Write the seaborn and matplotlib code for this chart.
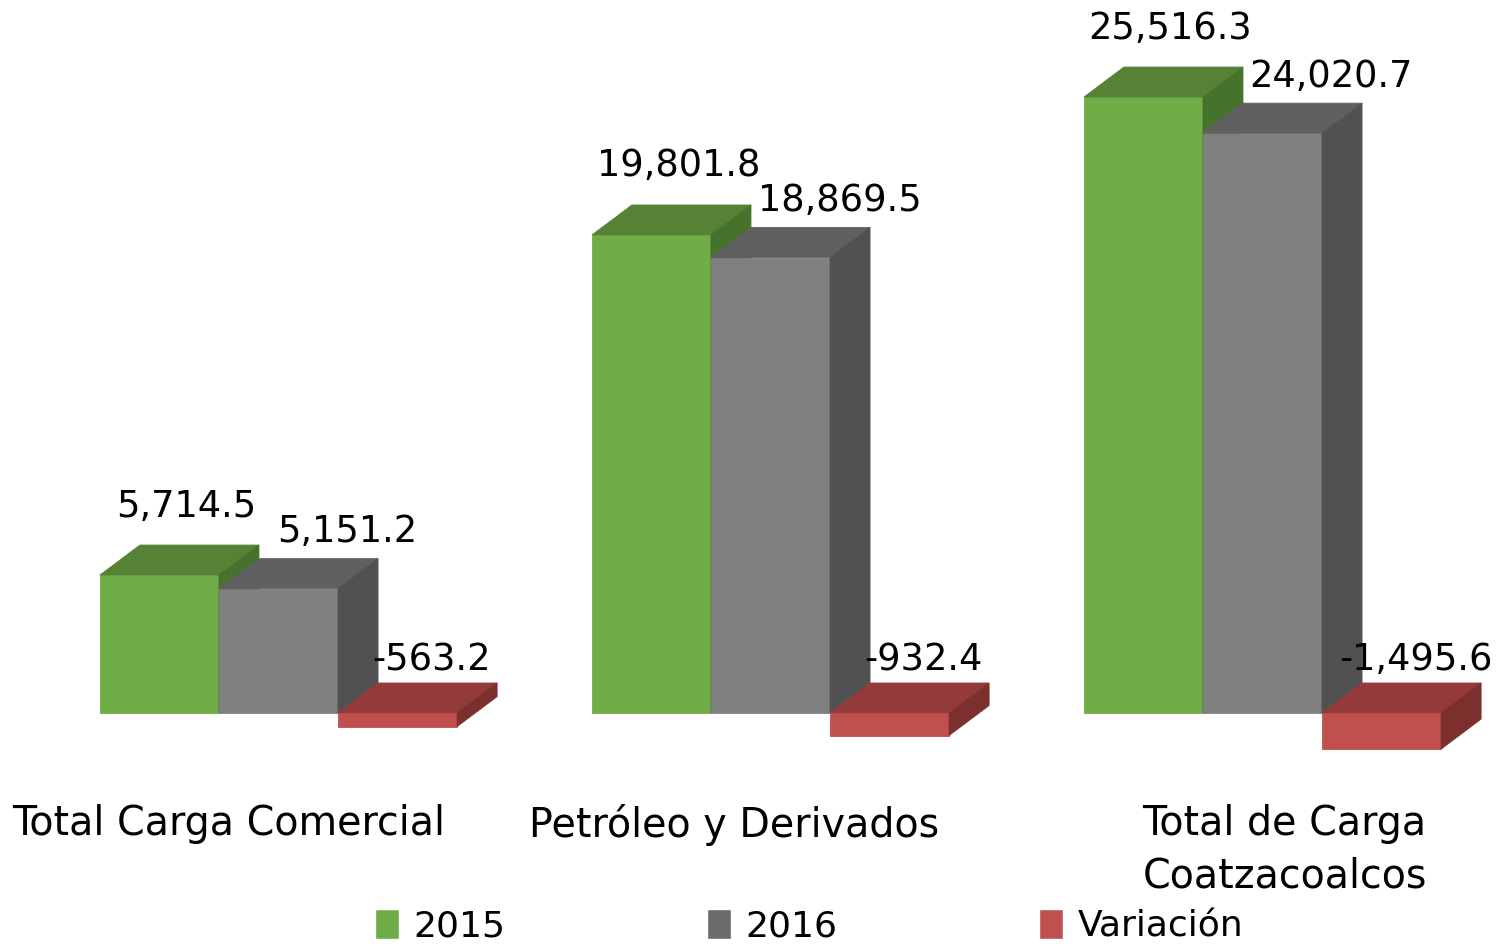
import numpy as np
import pandas as pd
import matplotlib
matplotlib.use("Agg")
import matplotlib.pyplot as plt
from matplotlib.patches import Polygon, Patch
import seaborn as sns

# data
categories = ["Total Carga Comercial", "Petróleo y Derivados", "Total de Carga\nCoatzacoalcos"]
series = ["2015", "2016", "Variación"]
values_2015 = [5714.5, 19801.8, 25516.3]
values_2016 = [5151.2, 18869.5, 24020.7]
values_var = [-563.2, -932.4, -1495.6]

# styling
front_colors = ["#70AD47", "#808080", "#C0504D"]
top_colors = ["#558235", "#606060", "#943A38"]
side_colors = ["#46732B", "#515151", "#7C302E"]
label_offsets = [(27, 69), (69, 57), (34, 53)]   # pixels from the bar's front top centre
cat_offsets = [-50, -36, 22]                      # pixels from the category centre
DEPTH_X, DEPTH_Y = 40, 30                         # 3d depth, pixels

df = pd.DataFrame({
    "categoria": categories * 3,
    "serie": [s for s in series for _ in categories],
    "valor": values_2015 + values_2016 + values_var,
})

sns.set_theme(style="white")
plt.rcParams["font.family"] = ["DejaVu Sans"]

W, H, DPI = 1501, 944, 100
fig = plt.figure(figsize=(W / DPI, H / DPI), dpi=DPI)
ax = fig.add_axes([0, 0, 1, 1])

sns.barplot(data=df, x="categoria", y="valor", hue="serie", order=categories,
            hue_order=series, palette=front_colors, saturation=1, width=0.726,
            linewidth=0, legend=False, ax=ax)

# map data to the reference's pixel layout
px_per_cat = 492.0
x0_px = 278.5
ax.set_xlim(-x0_px / px_per_cat, (W - x0_px) / px_per_cat)
units_per_px = 19801.8 / 478.0
base_px = H - 713
ax.set_ylim(-base_px * units_per_px, (H - base_px) * units_per_px)
ax.axis("off")

dx = DEPTH_X / px_per_cat
dy = DEPTH_Y * units_per_px

bars = list(ax.patches)
for i, s in enumerate(series):
    for j in range(len(categories)):
        bar = bars[i * len(categories) + j]
        x0 = bar.get_x()
        x1 = x0 + bar.get_width()
        y_a, y_b = bar.get_y(), bar.get_y() + bar.get_height()
        ytop, ybot = max(y_a, y_b), min(y_a, y_b)
        bar.set_zorder(10 * i + 1)
        bar.set_edgecolor(front_colors[i])
        bar.set_linewidth(0.6)
        top = Polygon([(x0, ytop), (x0 + dx, ytop + dy), (x1 + dx, ytop + dy), (x1, ytop)],
                      closed=True, facecolor=top_colors[i], edgecolor=top_colors[i],
                      linewidth=0.6, zorder=10 * i + 2)
        side = Polygon([(x1, ybot), (x1, ytop), (x1 + dx, ytop + dy), (x1 + dx, ybot + dy)],
                       closed=True, facecolor=side_colors[i], edgecolor=side_colors[i],
                       linewidth=0.6, zorder=10 * i + 3)
        ax.add_patch(top)
        ax.add_patch(side)

        val = df.loc[(df["serie"] == s) & (df["categoria"] == categories[j]), "valor"].iloc[0]
        ox, oy = label_offsets[i]
        ax.annotate(f"{val:,.1f}", xy=((x0 + x1) / 2, ytop), xycoords="data",
                    xytext=(ox, oy), textcoords="offset pixels",
                    ha="center", va="center", fontsize=26.5, color="black", zorder=50)

for j, cat in enumerate(categories):
    ax.annotate(cat, xy=(j, 0), xycoords="data", xytext=(cat_offsets[j], -91),
                textcoords="offset pixels", ha="center", va="top",
                multialignment="center", fontsize=28.5, color="black",
                linespacing=1.4)

handles = [Patch(facecolor=front_colors[0]), Patch(facecolor="#6A6A6A"),
           Patch(facecolor=front_colors[2])]
leg = fig.legend(handles, series, loc="center", bbox_to_anchor=(0.539, 0.019), ncol=3,
                 frameon=False, fontsize=26, handlelength=0.65, handleheight=0.9,
                 handletextpad=0.4, columnspacing=5.6, borderpad=0)
for t in leg.get_texts():
    t.set_color("black")

fig.savefig("out.png", dpi=DPI)
plt.close(fig)
